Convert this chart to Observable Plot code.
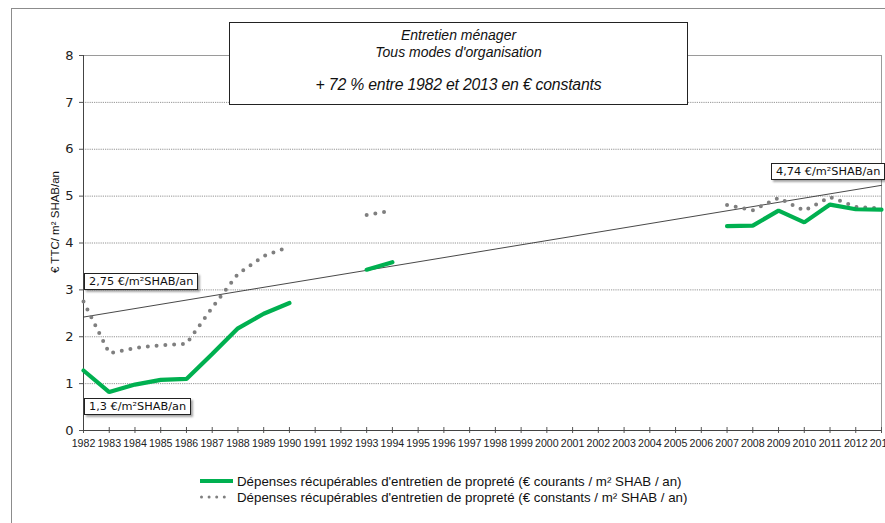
<!DOCTYPE html>
<html>
<head>
<meta charset="utf-8">
<script src="https://cdn.jsdelivr.net/npm/d3@7"></script>
<script src="https://cdn.jsdelivr.net/npm/@observablehq/plot@0.6"></script>
<style>
  html, body { margin: 0; padding: 0; background: #fff; }
  #wrap { position: relative; width: 885px; height: 523px; overflow: hidden; }
  #wrap > svg { position: absolute; left: 0; top: 0; }
  .frame { position: absolute; left: 11px; top: 8px; width: 1000px; height: 600px; border: 1px solid #8c8c8c; box-sizing: border-box; }
  .titlebox { position: absolute; left: 229px; top: 22px; width: 459px; height: 83px; border: 1.3px solid #222; background: #fff; box-sizing: border-box;
    font-family: "Liberation Sans", Arial, sans-serif; font-style: italic; text-align: center; color: #111; }
  .titlebox .l1 { position: absolute; left: 0; right: 0; top: 4px; font-size: 14px; line-height: 17px; }
  .titlebox .l2 { position: absolute; left: 0; right: 0; top: 21px; font-size: 14px; line-height: 17px; }
  .titlebox .l3 { position: absolute; left: 0; right: 0; top: 53px; font-size: 15.8px; line-height: 18px; letter-spacing: -0.2px; }
  .note { position: absolute; border: 1px solid #222; background: #fff; box-shadow: 2px 2px 2px rgba(0,0,0,0.35);
    font-family: "DejaVu Sans", Verdana, sans-serif; font-size: 11.3px; line-height: 15px; padding: 0 4px; white-space: nowrap; color: #111; }
  .ylabel { position: absolute; left: 55px; top: 222px; transform: translate(-50%, -50%) rotate(-90deg);
    font-family: "Liberation Sans", Arial, sans-serif; font-size: 11.5px; white-space: nowrap; color: #111; }
  .legend { position: absolute; left: 200px; top: 473px; font-family: "Liberation Sans", Arial, sans-serif; font-size: 13.3px; color: #111; }
  .legend .row { display: flex; align-items: center; height: 16px; }
  .legend .sw { position: static; display: block; margin-right: 3px; flex: none; }
</style>
</head>
<body>
<div id="wrap"></div>
<script>
// ---- data ----
const years = [1982,1983,1984,1985,1986,1987,1988,1989,1990,1991,1992,1993,1994,1995,1996,1997,1998,1999,2000,2001,2002,2003,2004,2005,2006,2007,2008,2009,2010,2011,2012,2013];
const courants = [1.28,0.82,0.98,1.08,1.10,1.63,2.18,2.49,2.72,null,null,3.43,3.59,null,null,null,null,null,null,null,null,null,null,null,null,4.36,4.37,4.69,4.44,4.82,4.72,4.71];
const constants = [2.75,1.65,1.76,1.82,1.85,2.62,3.34,3.72,3.92,null,null,4.60,4.69,null,null,null,null,null,null,null,null,null,null,null,null,4.81,4.70,4.96,4.69,4.98,4.77,4.74];
const trendYears = [1982, 2013];
const trendValues = [2.42, 5.23];
const yTicks = [0,1,2,3,4,5,6,7,8];
const gridTicks = [1,2,3,4,5,6,7];

const seriesCourants = "Dépenses récupérables d'entretien de propreté (€ courants / m² SHAB / an)";
const seriesConstants = "Dépenses récupérables d'entretien de propreté (€ constants / m² SHAB / an)";
const titleLines = ["Entretien ménager", "Tous modes d'organisation", "+ 72 % entre 1982 et 2013 en € constants"];
const yLabel = "€ TTC/ m² SHAB/an";
const notes = [
  {text: "2,75 €/m²SHAB/an", year: 1982, value: 2.75, dx: 1, dy: -28},
  {text: "1,3 €/m²SHAB/an", year: 1982, value: 1.28, dx: 1, dy: 28},
  {text: "4,74 €/m²SHAB/an", year: 2013, value: 4.74, dx: -110, dy: -45}
];

const rows = years.map((y, i) => ({year: y, courants: courants[i], constants: constants[i]}));
const trend = trendYears.map((y, i) => ({year: y, value: trendValues[i]}));

const GREEN = "#00b050";
const GREY = "#7f7f7f";

const plot = Plot.plot({
  width: 885,
  height: 523,
  marginTop: 55,
  marginBottom: 93,
  marginLeft: 83,
  marginRight: 4,
  style: {background: "transparent", fontFamily: "DejaVu Sans, sans-serif", color: "#222"},
  x: {domain: [1982, 2013]},
  y: {domain: [0, 8]},
  marks: [
    Plot.ruleY(gridTicks, {stroke: "#888", strokeWidth: 0.9, strokeDasharray: "1.2 1"}),
    Plot.ruleY([8], {stroke: "#9a9a9a", strokeWidth: 1}),
    Plot.ruleX([2013], {stroke: "#9a9a9a", strokeWidth: 1}),
    Plot.axisY({ticks: yTicks, tickSize: 4, tickPadding: 6, fontSize: 13, label: null, stroke: "#555",
      fontFamily: "DejaVu Sans, sans-serif"}),
    Plot.axisX({ticks: years, tickSize: 6, dy: -3, text: null, label: null, stroke: "#555"}),
    Plot.axisX({ticks: years, tickSize: 0, tickPadding: 9, tickFormat: d => String(d), fontSize: 10.6, label: null,
      fontFamily: "Liberation Sans, Arial, sans-serif"}),
    Plot.ruleY([0], {stroke: "#444", strokeWidth: 1}),
    Plot.ruleX([1982], {stroke: "#444", strokeWidth: 1}),
    Plot.line(trend, {x: "year", y: "value", stroke: "#333", strokeWidth: 0.9}),
    Plot.line(rows, {x: "year", y: "constants", stroke: GREY, strokeWidth: 4, strokeDasharray: "0 8.8", strokeLinecap: "round", strokeLinejoin: "round"}),
    Plot.line(rows, {x: "year", y: "courants", stroke: GREEN, strokeWidth: 4.2, strokeLinejoin: "miter"})
  ]
});

const wrap = document.getElementById("wrap");
const frame = document.createElement("div");
frame.className = "frame";
wrap.appendChild(frame);
wrap.appendChild(plot);

const xs = plot.scale("x"), ys = plot.scale("y");

// title box
const tb = document.createElement("div");
tb.className = "titlebox";
titleLines.forEach((t, i) => {
  const d = document.createElement("div");
  d.className = "l" + (i + 1);
  d.textContent = t;
  tb.appendChild(d);
});
wrap.appendChild(tb);

// value notes
notes.forEach(n => {
  const d = document.createElement("div");
  d.className = "note";
  d.textContent = n.text;
  d.style.left = (xs.apply(n.year) + n.dx) + "px";
  d.style.top = (ys.apply(n.value) + n.dy) + "px";
  wrap.appendChild(d);
});

// y label
const yl = document.createElement("div");
yl.className = "ylabel";
yl.textContent = yLabel;
wrap.appendChild(yl);

// legend
const lg = document.createElement("div");
lg.className = "legend";
lg.innerHTML =
  `<div class="row"><svg class="sw" width="34" height="8"><line x1="0" x2="33" y1="4" y2="4" stroke="${GREEN}" stroke-width="4"/></svg><span></span></div>` +
  `<div class="row"><svg class="sw" width="34" height="8"><line x1="1.5" x2="25" y1="4" y2="4" stroke="${GREY}" stroke-width="3" stroke-linecap="round" stroke-dasharray="0 7.6"/></svg><span></span></div>`;
const spans = lg.querySelectorAll("span");
spans[0].textContent = seriesCourants;
spans[1].textContent = seriesConstants;
wrap.appendChild(lg);
</script>
</body>
</html>
